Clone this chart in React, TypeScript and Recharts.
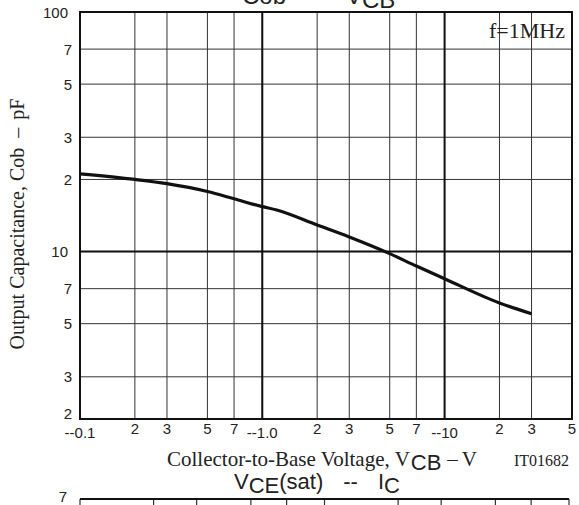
import React from "react";
import {
  CartesianGrid,
  Line,
  LineChart,
  ReferenceArea,
  ReferenceLine,
  XAxis,
  YAxis,
} from "recharts";

// Cob – VCB curve
const vcb = [0.1, 0.2, 0.3, 0.5, 0.7, 1, 1.2, 2, 3, 5, 7, 10, 20, 30];
const cob = [21.1, 20, 19.2, 17.8, 16.6, 15.4, 14.9, 12.9, 11.5, 9.8, 8.7, 7.7, 6.1, 5.5];

const xTicks = [0.1, 0.2, 0.3, 0.5, 0.7, 1, 2, 3, 5, 7, 10, 20, 30, 50];
const xTickLabels = ["--0.1", "2", "3", "5", "7", "--1.0", "2", "3", "5", "7", "--10", "2", "3", "5"];
const yTicks = [2, 3, 5, 7, 10, 20, 30, 50, 70, 100];
const yTickLabels = ["2", "3", "5", "7", "10", "2", "3", "5", "7", "100"];
const decadesX = [1, 10];
const decadesY = [10];

// top edge of the next chart on the sheet (VCE(sat) – IC)
const nextXTicks = [1, 2, 3, 5, 7, 10, 20, 30, 50, 70, 100];
const nextYTicks = [7];
const nextYTickLabels = ["7"];

const SANS = "'Liberation Sans', Arial, sans-serif";
const SERIF = "'Liberation Serif', 'Times New Roman', serif";

function XTick(props: any) {
  const { x, y, payload } = props;
  const label = xTickLabels[xTicks.indexOf(payload.value)] ?? "";
  const decade = label.startsWith("--");
  return (
    <text x={x} y={y + (decade ? 19 : 15)} textAnchor="middle" fontFamily={SANS} fontSize={15} fill="#222">
      {label}
    </text>
  );
}

function YTick(props: any) {
  const { x, y, payload } = props;
  const label = yTickLabels[yTicks.indexOf(payload.value)] ?? "";
  const shift = payload.value === yTicks[0] ? -6 : 0;
  return (
    <text
      x={x - (label.length > 1 ? 12 : 8)}
      y={y + 5.5 + shift}
      textAnchor="end"
      fontFamily={SANS}
      fontSize={15}
      fill="#222"
    >
      {label}
    </text>
  );
}

function NextYTick(props: any) {
  const { x, y, payload } = props;
  const label = nextYTickLabels[nextYTicks.indexOf(payload.value)] ?? "";
  return (
    <text x={x - 13} y={y + 3} textAnchor="end" fontFamily={SANS} fontSize={15} fill="#222">
      {label}
    </text>
  );
}

export default function App() {
  const data = vcb.map((v, i) => ({ vcb: v, cob: cob[i] }));
  const nextData = nextXTicks.map((v) => ({ ic: v }));

  return (
    <div
      style={{
        position: "absolute",
        left: 0,
        top: 0,
        width: 579,
        height: 505,
        overflow: "hidden",
        background: "#fff",
      }}
    >
      <LineChart width={579} height={505} data={data} margin={{ top: 12, right: 7, bottom: 0, left: 0 }}>
        <CartesianGrid stroke="#333" strokeWidth={1} />
        <XAxis
          dataKey="vcb"
          type="number"
          scale="log"
          domain={[0.1, 50]}
          ticks={xTicks}
          interval={0}
          allowDataOverflow
          axisLine={false}
          tickLine={false}
          tickSize={0}
          tickMargin={0}
          height={86}
          tick={<XTick />}
        />
        <YAxis
          type="number"
          scale="log"
          domain={[2, 100]}
          ticks={yTicks}
          interval={0}
          allowDataOverflow
          axisLine={false}
          tickLine={false}
          tickSize={0}
          tickMargin={0}
          width={80}
          tick={<YTick />}
        />
        {decadesX.map((v) => (
          <ReferenceLine key={`x${v}`} x={v} stroke="#111" strokeWidth={2} />
        ))}
        {decadesY.map((v) => (
          <ReferenceLine key={`y${v}`} y={v} stroke="#111" strokeWidth={2} />
        ))}
        <ReferenceArea x1={0.1} x2={50} y1={2} y2={100} fill="none" fillOpacity={0} stroke="#111" strokeWidth={2} />
        <Line
          dataKey="cob"
          type="monotone"
          stroke="#111"
          strokeWidth={3.2}
          dot={false}
          isAnimationActive={false}
        />
      </LineChart>

      <div style={{ position: "absolute", left: 0, top: 487 }}>
        <LineChart width={579} height={120} data={nextData} margin={{ top: 12, right: 10, bottom: 0, left: 0 }}>
          <XAxis
            dataKey="ic"
            type="number"
            scale="log"
            domain={[1, 100]}
            ticks={nextXTicks}
            interval={0}
            allowDataOverflow
            axisLine={false}
            tickLine={false}
            tick={false}
            height={1}
          />
          <YAxis
            type="number"
            domain={[0, 7]}
            ticks={nextYTicks}
            interval={0}
            allowDataOverflow
            axisLine={false}
            tickLine={false}
            tickSize={0}
            tickMargin={0}
            width={80}
            tick={<NextYTick />}
          />
          {nextXTicks.map((v) => (
            <ReferenceLine key={`n${v}`} x={v} stroke="#333" strokeWidth={1.2} />
          ))}
          <ReferenceLine y={7} stroke="#111" strokeWidth={2} />
        </LineChart>
      </div>

      <svg
        width={579}
        height={505}
        style={{ position: "absolute", left: 0, top: 0, pointerEvents: "none" }}
      >
        {/* title of this chart, mostly cut off by the crop */}
        <text x={242} y={4} fontFamily={SANS} fontSize={24} fill="#222">
          Cob
          <tspan dx={22}>--</tspan>
          <tspan dx={22}>V</tspan>
          <tspan dy={4}>CB</tspan>
        </text>

        <text x={565} y={38} textAnchor="end" fontFamily={SERIF} fontSize={22} fill="#222">
          f=1MHz
        </text>

        <text
          x={24}
          y={224}
          transform="rotate(-90 24 224)"
          textAnchor="middle"
          fontFamily={SERIF}
          fontSize={20}
          fill="#222"
        >
          Output Capacitance, Cob
          <tspan dx={10}>–</tspan>
          <tspan dx={8}>pF</tspan>
        </text>

        <text x={167} y={466} fontFamily={SERIF} fontSize={21} fill="#222">
          Collector-to-Base Voltage, V
          <tspan dx={1} dy={4} fontFamily={SANS} fontSize={22}>
            CB
          </tspan>
          <tspan dx={6} dy={-4}>–</tspan>
          <tspan dx={4}>V</tspan>
        </text>
        <text x={569} y={466} textAnchor="end" fontFamily={SERIF} fontSize={16} fill="#222">
          IT01682
        </text>

        {/* title of the next chart on the sheet */}
        <text x={234} y={489} fontFamily={SANS} fontSize={22} fill="#222">
          V
          <tspan dy={4}>CE</tspan>
          <tspan dy={-4}>(sat)</tspan>
          <tspan dx={20}>--</tspan>
          <tspan dx={20}>I</tspan>
          <tspan dy={4}>C</tspan>
        </text>
      </svg>
    </div>
  );
}
